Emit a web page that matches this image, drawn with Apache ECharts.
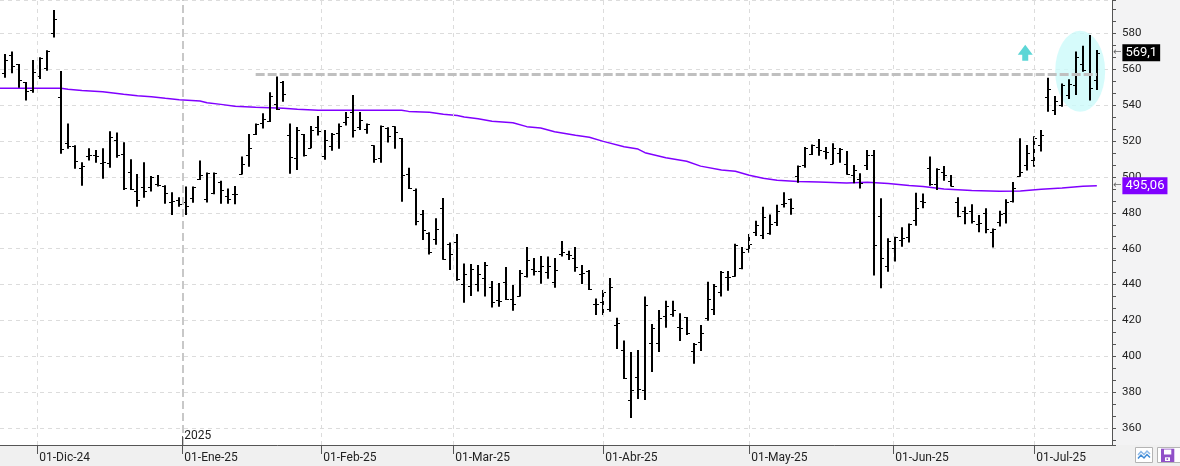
<!DOCTYPE html>
<html>
<head>
<meta charset="utf-8">
<script src="https://cdn.jsdelivr.net/npm/echarts@6/dist/echarts.min.js"></script>
<style>
html,body{margin:0;padding:0;background:#f3f3f4;}
#c{width:1180px;height:466px;}
</style>
</head>
<body>
<div id="c"></div>
<script>
// ---- OHLC per trading day (index 0 = 22-Nov-24 ... 157 = 15-Jul-25) ----
const openP = [557.7,568.0,562.7,552.7,548.4,556.1,560.5,580.0,544.3,518.7,
517.4,505.1,511.6,512.0,507.7,507.9,520.6,512.8,502.6,492.1,
494.2,494.2,496.1,495.1,486.2,487.1,486.0,488.1,498.8,487.7,
491.2,497.2,489.2,490.5,501.8,512.0,523.9,529.8,531.0,540.6,
552.9,523.3,510.3,523.7,515.9,528.0,511.6,517.2,524.3,530.8,
536.0,527.8,526.7,517.6,510.7,527.2,528.2,521.7,501.4,492.7,
479.1,468.9,465.2,482.5,462.8,463.5,440.1,439.2,440.3,443.7,
438.7,431.4,441.4,432.0,433.6,445.0,448.7,447.4,447.0,441.4,
457.0,456.9,454.6,445.9,447.4,429.0,430.1,426.2,417.5,403.4,
375.5,388.3,381.1,407.3,407.3,422.5,423.4,416.2,421.8,402.8,
408.0,421.4,426.4,435.9,444.0,444.6,449.4,459.6,469.5,467.6,
468.6,474.9,485.0,487.5,500.7,506.6,512.8,516.5,514.4,507.2,
513.1,507.2,500.9,498.8,506.6,512.2,478.0,450.5,460.2,464.8,
466.3,476.0,486.5,504.8,496.0,502.9,497.7,486.2,481.0,481.0,
473.7,479.7,469.1,474.9,479.7,486.6,500.7,506.6,509.4,517.8,
544.7,537.3,540.0,545.4,551.2,562.9,557.0,554.0];
const closeP = [564.9,561.8,553.8,547.9,558.4,566.2,570.1,587.8,515.3,517.4,
508.7,506.1,512.0,511.6,508.1,522.2,512.2,494.0,493.4,486.9,
492.1,500.1,495.5,490.8,486.6,485.1,483.8,494.2,500.9,502.2,
502.0,492.5,487.5,490.5,507.2,516.3,529.3,532.4,544.9,538.0,
546.2,511.1,526.1,512.4,526.3,525.6,520.4,523.7,528.4,533.4,
526.1,531.5,529.5,509.8,528.4,522.6,524.8,500.9,494.0,475.2,
470.2,458.0,470.8,454.4,456.9,443.1,445.9,448.7,445.9,450.7,
430.3,431.0,432.2,429.0,446.6,453.5,447.8,450.4,450.4,447.9,
458.0,456.5,449.6,446.5,437.7,429.0,435.9,438.5,418.4,387.8,
381.1,381.7,428.4,415.6,421.2,427.9,425.8,416.0,412.8,406.9,
413.2,432.2,439.2,447.0,444.2,462.3,458.3,462.4,473.0,477.8,
473.6,481.0,485.3,482.5,506.3,516.1,517.6,514.8,514.0,515.9,
515.7,501.6,503.7,496.8,512.2,461.9,454.6,464.5,466.7,466.0,
473.7,482.5,486.2,495.8,504.4,501.0,495.1,478.4,480.1,475.4,
474.1,471.0,470.8,479.3,486.0,493.6,502.7,513.1,521.5,523.3,
549.0,542.3,551.2,551.5,566.6,559.5,549.7,569.1];
const lowP = [555.3,557.7,549.7,542.5,546.9,554.5,559.2,577.6,512.9,515.7,
504.6,495.1,509.1,507.9,499.0,505.1,510.7,492.7,492.7,483.4,
488.4,491.8,494.6,485.1,478.8,483.4,478.8,485.6,498.3,485.8,
490.3,485.1,485.1,484.7,501.4,505.7,523.3,526.9,530.6,537.3,
541.9,501.8,503.8,511.3,515.9,523.0,509.6,514.6,515.7,528.6,
521.9,526.1,524.1,507.9,507.9,519.1,515.7,486.2,493.3,473.0,
464.8,456.7,462.2,453.9,448.1,442.2,429.9,433.6,436.1,433.3,
427.2,427.7,431.4,425.5,433.3,443.9,445.0,440.5,443.3,438.3,
455.6,453.7,447.2,440.3,437.0,423.1,423.1,424.9,404.1,387.4,
365.7,376.3,375.7,391.3,402.5,416.0,422.1,408.6,411.9,395.9,
403.0,419.9,423.1,433.3,436.6,444.4,448.5,457.8,467.1,465.4,
467.8,472.6,482.9,478.9,496.8,505.1,512.2,511.8,509.8,507.0,
507.9,501.2,496.4,493.6,503.8,445.0,437.9,447.2,452.8,461.1,
463.4,472.8,482.5,495.1,492.7,497.9,494.6,477.5,473.6,474.1,
469.1,468.6,460.6,472.3,474.1,485.7,500.1,503.5,505.7,514.1,
536.3,534.5,539.1,543.4,545.6,558.6,542.5,548.4];
const highP = [568.5,569.8,562.9,552.9,565.1,566.6,570.5,593.0,559.0,529.8,
517.6,508.1,515.9,515.0,515.9,525.4,524.8,519.3,509.8,501.6,
508.1,500.5,501.0,495.3,491.4,488.6,494.6,494.6,509.2,502.5,
502.5,497.9,493.5,494.9,511.3,523.9,529.8,535.4,547.1,556.0,
553.4,529.8,527.8,523.9,528.4,533.9,526.1,524.5,529.8,536.2,
545.6,536.2,529.8,517.6,528.7,527.6,528.2,521.7,505.1,493.6,
481.6,469.1,476.9,488.2,463.5,468.2,451.8,451.5,450.9,452.6,
442.0,440.9,449.8,439.8,448.1,460.9,454.8,455.9,455.6,454.8,
464.3,458.9,460.9,450.9,448.1,432.2,437.0,443.7,421.6,408.9,
402.5,403.6,433.3,418.0,425.8,431.0,431.0,424.0,421.9,407.5,
417.5,441.6,440.3,447.6,447.6,462.8,460.9,468.2,475.6,483.4,
479.0,484.5,491.4,488.0,506.4,516.7,518.1,521.1,516.7,518.7,
516.1,514.4,506.6,502.1,515.0,515.0,488.1,465.8,466.7,471.9,
474.1,491.2,490.8,511.3,504.8,506.1,501.0,488.6,483.4,484.7,
478.8,482.5,471.3,481.2,487.5,497.2,521.6,517.8,522.6,526.1,
555.3,545.1,552.1,554.4,569.8,573.0,579.1,570.7];

// ---- moving average (sampled at bar indices) ----
const maBar = [-1,8,9,11,14,17,19,21,23,25,28,29,31,33,36,40,42,45,57,58,
61,63,65,66,68,70,73,75,77,79,82,84,86,89,91,92,95,98,100,103,
105,107,109,111,114,117,121,124,127,130,132,135,139,143,146,149,152,155,157];
const maVal = [549.4,549.4,548.8,548.2,547.5,546.0,545.2,544.7,543.8,543.0,
542.3,541.3,540.4,539.3,538.8,538.2,537.7,537.1,537.1,536.5,
536.0,534.9,534.2,533.4,532.4,531.0,530.2,528.0,527.2,525.2,
523.2,522.1,519.8,516.8,515.5,513.5,510.7,508.7,506.0,503.9,
503.1,500.9,499.3,498.1,497.5,497.2,496.6,497.0,496.3,495.2,
494.6,493.3,492.4,492.0,492.2,493.1,493.8,494.8,495.06];

// ---- axis labels (month starts, in bar-index units) ----
const monthPos = [4.59, 25.45, 45.44, 64.43, 86, 107, 127.72, 148];
const monthLabels = ['01-Dic-24','01-Ene-25','01-Feb-25','01-Mar-25','01-Abr-25','01-May-25','01-Jun-25','01-Jul-25'];
const yearIdx = 1;
const yearLabel = '2025';

// ---- annotations ----
const lastClose = 569.1;
const lastMA = 495.06;
const resLevel = 557.2;
const resFrom = 36;
const resTo = 157;
const arrowPoint = [146.7, 569.1];
const highlightCenter = [154.6, 558.8];

// ---- layout ----
const X_MIN = -0.777, X_MAX = 159.18;
const Y_MIN = 350.64, Y_MAX = 598.55;
const YEAR_TICK_TOP = 355.6;
const FONT = 'Roboto';

const bars = openP.map((o, i) => [i, o, closeP[i], lowP[i], highP[i]]);
const maData = maBar.map((b, k) => [b, maVal[k]]);
const fmt = (v, d) => v.toFixed(d).replace('.', ',');

const chart = echarts.init(document.getElementById('c'), null, {renderer: 'canvas'});

const valueBox = (text, bg) => ({
  show: true, position: 'end', distance: 1,
  formatter: '{a|←}{b|' + text + '}',
  rich: {
    a: {color: '#666', fontSize: 10, fontFamily: 'DejaVu Sans', padding: [0, 1, 0, 0]},
    b: {color: '#fff', backgroundColor: bg, fontSize: 13, fontFamily: FONT, padding: [2, 3, 2, 3], lineHeight: 14}
  }
});

const option = {
  animation: false,
  backgroundColor: '#f3f3f4',
  grid: {left: 0, right: 68, top: 0, bottom: 21, show: true, backgroundColor: '#ffffff', borderWidth: 0,
         containLabel: false, outerBoundsMode: 'none'},
  xAxis: {
    type: 'value', min: X_MIN, max: X_MAX,
    axisLine: {show: true, onZero: false, lineStyle: {color: '#555', width: 1}},
    splitLine: {show: false},
    axisTick: {show: true, customValues: monthPos, length: 9, lineStyle: {color: '#555'}},
    axisLabel: {
      show: true, customValues: monthPos, align: 'left', margin: 7,
      color: '#222', fontFamily: FONT, fontSize: 12, padding: [0, 0, 0, 2],
      formatter: v => {
        for (let k = 0; k < monthPos.length; k++) if (Math.abs(monthPos[k] - v) < 1e-6) return monthLabels[k];
        return '';
      }
    }
  },
  yAxis: {
    type: 'value', position: 'right', min: Y_MIN, max: Y_MAX,
    minInterval: 20, maxInterval: 20, splitNumber: 12,
    axisLine: {show: true, onZero: false, lineStyle: {color: '#555', width: 1}},
    axisTick: {show: true, length: 4, lineStyle: {color: '#555'}},
    minorTick: {show: true, splitNumber: 3, length: 4, lineStyle: {color: '#555'}},
    splitLine: {show: true, lineStyle: {color: '#dcdcdc', type: [4, 4]}},
    axisLabel: {
      margin: 10, color: '#222', fontFamily: FONT, fontSize: 11.5, showMaxLabel: true, showMinLabel: true,
      formatter: v => {
        const r = Math.round(v);
        if (Math.abs(v - r) < 1e-6 && r % 20 === 0) return String(r);
        if (v > 590) return '{t|600}';
        return '';
      },
      rich: {t: {color: '#222', fontFamily: FONT, fontSize: 11.5, padding: [0, 0, 5, 0]}}
    }
  },
  graphic: {elements: [
    {type: 'rect', silent: true, z: -10, shape: {x: 0, y: 445, width: 1180, height: 21}, style: {fill: '#f0f0f0'}},
    {type: 'rect', silent: true, shape: {x: 1135.5, y: 447.5, width: 17, height: 15}, style: {fill: '#fff', stroke: '#b4b4b4', lineWidth: 1}},
    {type: 'polyline', silent: true, shape: {points: [[1138, 455], [1141, 451.5], [1144, 454.5], [1147, 451], [1150, 454]]}, style: {stroke: '#8ab8e8', lineWidth: 1.5, fill: null}},
    {type: 'polyline', silent: true, shape: {points: [[1138, 458.5], [1141, 455], [1144, 458], [1147, 454.5], [1150, 457.5]]}, style: {stroke: '#3d8ad6', lineWidth: 1.5, fill: null}},
    {type: 'rect', silent: true, shape: {x: 1157.5, y: 447.5, width: 23, height: 15}, style: {fill: '#fff', stroke: '#b4b4b4', lineWidth: 1}},
    {type: 'rect', silent: true, shape: {x: 1161, y: 448.7, width: 13.3, height: 13.3}, style: {fill: '#9150c8'}},
    {type: 'rect', silent: true, shape: {x: 1164, y: 449.5, width: 7.3, height: 5}, style: {fill: '#fff'}},
    {type: 'rect', silent: true, shape: {x: 1165, y: 457.3, width: 5, height: 3.7}, style: {fill: '#fff'}},
    {type: 'rect', silent: true, shape: {x: 1166.5, y: 458.3, width: 1.6, height: 1.6}, style: {fill: '#9150c8'}}
  ]},
  series: [
    {
      type: 'scatter', z: 1, silent: true,
      data: [highlightCenter], symbol: 'circle', symbolSize: [50, 81],
      itemStyle: {color: '#ccfafa'}
    },
    {
      type: 'line', z: 2, silent: true, data: [],
      markLine: {
        silent: true, symbol: ['none', 'none'], animation: false,
        label: {show: false},
        data: monthPos.map((p, k) => ({
          xAxis: p,
          lineStyle: k === yearIdx ? {color: '#c8c8c8', width: 2, type: [8, 4]} : {color: '#dcdcdc', width: 1, type: [4, 4]}
        })).concat([
          [{coord: [resFrom, resLevel], lineStyle: {color: '#c0c0c0', width: 3, type: [9, 3]}}, {coord: [resTo, resLevel]}],
          [{coord: [monthPos[yearIdx], Y_MIN], lineStyle: {color: '#555', width: 1, type: 'solid'}}, {coord: [monthPos[yearIdx], YEAR_TICK_TOP]}]
        ])
      },
      markPoint: {
        silent: true, animation: false,
        data: [{
          coord: [monthPos[yearIdx], YEAR_TICK_TOP], symbol: 'rect', symbolSize: 0,
          label: {show: true, position: 'right', distance: 2, formatter: yearLabel, color: '#222', fontFamily: FONT, fontSize: 12}
        }]
      }
    },
    {
      type: 'scatter', z: 2, silent: true,
      data: [arrowPoint],
      symbol: 'path://M7.5,0L15,10L10.5,10L10.5,16L4.5,16L4.5,10L0,10Z',
      symbolSize: [15, 16],
      itemStyle: {color: '#33cccc'}
    },
    {
      type: 'line', z: 2.5, silent: true, data: maData, showSymbol: false, symbol: 'none',
      lineStyle: {color: '#8000ff', width: 1.5},
      markLine: {
        silent: true, symbol: ['none', 'none'], animation: false,
        lineStyle: {color: 'rgba(0,0,0,0)', width: 1, type: 'solid'},
        label: valueBox(fmt(lastMA, 2), '#8000ff'),
        data: [{yAxis: lastMA}]
      }
    },
    {
      type: 'custom', z: 3, silent: true,
      data: bars,
      encode: {x: 0, y: [1, 2, 3, 4]},
      renderItem: (params, api) => {
        const i = api.value(0);
        const pO = api.coord([i, api.value(1)]);
        const pC = api.coord([i, api.value(2)]);
        const pL = api.coord([i, api.value(3)]);
        const pH = api.coord([i, api.value(4)]);
        const x = Math.round(pH[0]);
        const yo = Math.round(pO[1]) + 0.5;
        const yc = Math.round(pC[1]) + 0.5;
        return {
          type: 'group',
          children: [
            {type: 'line', shape: {x1: x, y1: pH[1], x2: x, y2: pL[1]}, style: {stroke: '#000', lineWidth: 2}},
            {type: 'line', shape: {x1: x - 3, y1: yo, x2: x, y2: yo}, style: {stroke: '#000', lineWidth: 1}},
            {type: 'line', shape: {x1: x, y1: yc, x2: x + 3, y2: yc}, style: {stroke: '#000', lineWidth: 1}}
          ]
        };
      },
      markLine: {
        silent: true, symbol: ['none', 'none'], animation: false,
        lineStyle: {color: 'rgba(0,0,0,0)', width: 1, type: 'solid'},
        label: valueBox(fmt(lastClose, 1), '#000'),
        data: [{yAxis: lastClose}]
      }
    }
  ]
};
chart.setOption(option);
</script>
</body>
</html>
